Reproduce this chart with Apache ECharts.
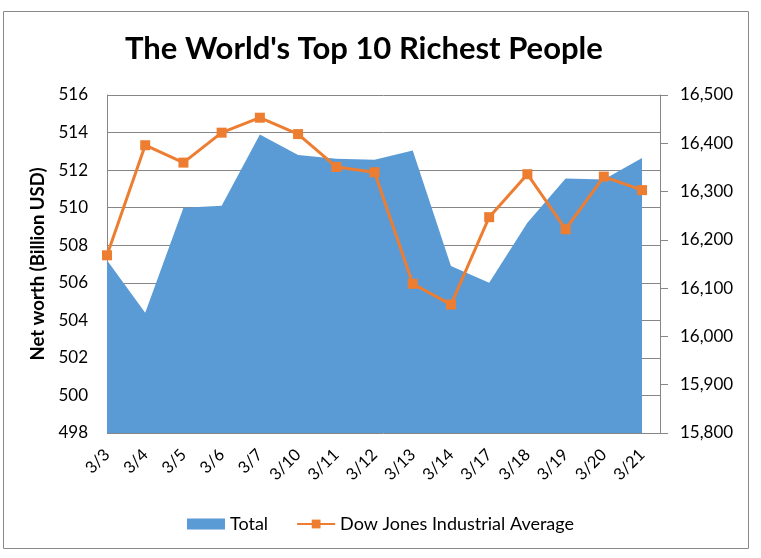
<!DOCTYPE html>
<html>
<head>
<meta charset="utf-8">
<script src="https://cdn.jsdelivr.net/npm/echarts@6/dist/echarts.min.js"></script>
<style>
html,body{margin:0;padding:0;background:#fff;}
#c{width:761px;height:558px;}
</style>
</head>
<body>
<div id="c"></div>
<script>
const categories = ['3/3','3/4','3/5','3/6','3/7','3/10','3/11','3/12','3/13','3/14','3/17','3/18','3/19','3/20','3/21'];
const totalValues = [507.2, 504.4, 510.0, 510.1, 513.9, 512.8, 512.6, 512.55, 513.05, 506.9, 506.0, 509.2, 511.55, 511.5, 512.65];
const dowValues = [16168, 16396, 16360, 16422, 16453, 16419, 16351, 16340, 16109, 16066, 16247, 16336, 16222, 16331, 16303];
const leftTicks = {min: 498, max: 516, interval: 2};
const rightTicks = {min: 15800, max: 16500, interval: 100};

const FONT = 'Lato';
const chart = echarts.init(document.getElementById('c'), null, {renderer: 'canvas'});
const xMax = 14.47;
chart.setOption({
  animation: false,
  backgroundColor: '#fff',
  textStyle: {fontFamily: FONT},
  title: {
    text: "The World's Top 10 Richest People",
    left: 120, top: 28,
    textStyle: {fontFamily: FONT, fontWeight: 'bold', fontSize: 31, color: '#000'}
  },
  legend: {
    left: 'center', top: 510,
    itemWidth: 38, itemHeight: 11, itemGap: 28,
    textStyle: {fontFamily: FONT, fontSize: 18, color: '#000'},
    data: [
      {name: 'Total', icon: 'rect'},
      {name: 'Dow Jones Industrial Average'}
    ]
  },
  grid: {left: 107, right: 101, top: 95, bottom: 125, containLabel: false},
  xAxis: {
    type: 'value', min: 0, max: xMax, interval: 1,
    axisLine: {show: false}, axisTick: {show: false}, splitLine: {show: false},
    axisLabel: {
      rotate: 45, margin: 19, fontSize: 16.5, fontFamily: FONT, color: '#000',
      showMaxLabel: false,
      formatter: v => (Number.isInteger(v) && categories[v] !== undefined) ? categories[v] : ''
    }
  },
  yAxis: [
    {
      type: 'value', position: 'left',
      min: leftTicks.min, max: leftTicks.max, interval: leftTicks.interval,
      name: 'Net worth (Billion USD)', nameLocation: 'middle', nameGap: 54,
      nameTextStyle: {fontFamily: FONT, fontWeight: 'bold', fontSize: 18.5, color: '#000'},
      axisLine: {show: true, lineStyle: {color: '#868686', width: 1}},
      axisTick: {show: false},
      axisLabel: {margin: 19, fontSize: 17, fontFamily: FONT, color: '#000'},
      splitLine: {show: true, lineStyle: {color: '#868686', width: 1}}
    },
    {
      type: 'value', position: 'right',
      min: rightTicks.min, max: rightTicks.max, interval: rightTicks.interval,
      axisLine: {show: true, lineStyle: {color: '#868686', width: 1}},
      axisTick: {show: true, length: 8, inside: false, lineStyle: {color: '#868686'}},
      axisLabel: {margin: 20, fontSize: 17, fontFamily: FONT, color: '#000',
        formatter: v => v.toLocaleString('en-US')},
      splitLine: {show: false}
    }
  ],
  series: [
    {
      name: 'Total', type: 'line', yAxisIndex: 0,
      data: totalValues.map((v, i) => [i, v]),
      symbol: 'none', lineStyle: {width: 0},
      areaStyle: {color: '#5B9BD5', opacity: 1, origin: 'start'},
      itemStyle: {color: '#5B9BD5'},
      z: 2
    },
    {
      name: 'Dow Jones Industrial Average', type: 'line', yAxisIndex: 1,
      data: dowValues.map((v, i) => [i, v]),
      symbol: 'rect', symbolSize: 10,
      lineStyle: {color: '#ED7D31', width: 3},
      itemStyle: {color: '#ED7D31'},
      z: 3
    }
  ],
  graphic: [
    {type: 'rect', shape: {x: 3.5, y: 11.5, width: 745, height: 537},
     style: {fill: null, stroke: '#888', lineWidth: 1}, silent: true, z: -1}
  ]
});
</script>
</body>
</html>
